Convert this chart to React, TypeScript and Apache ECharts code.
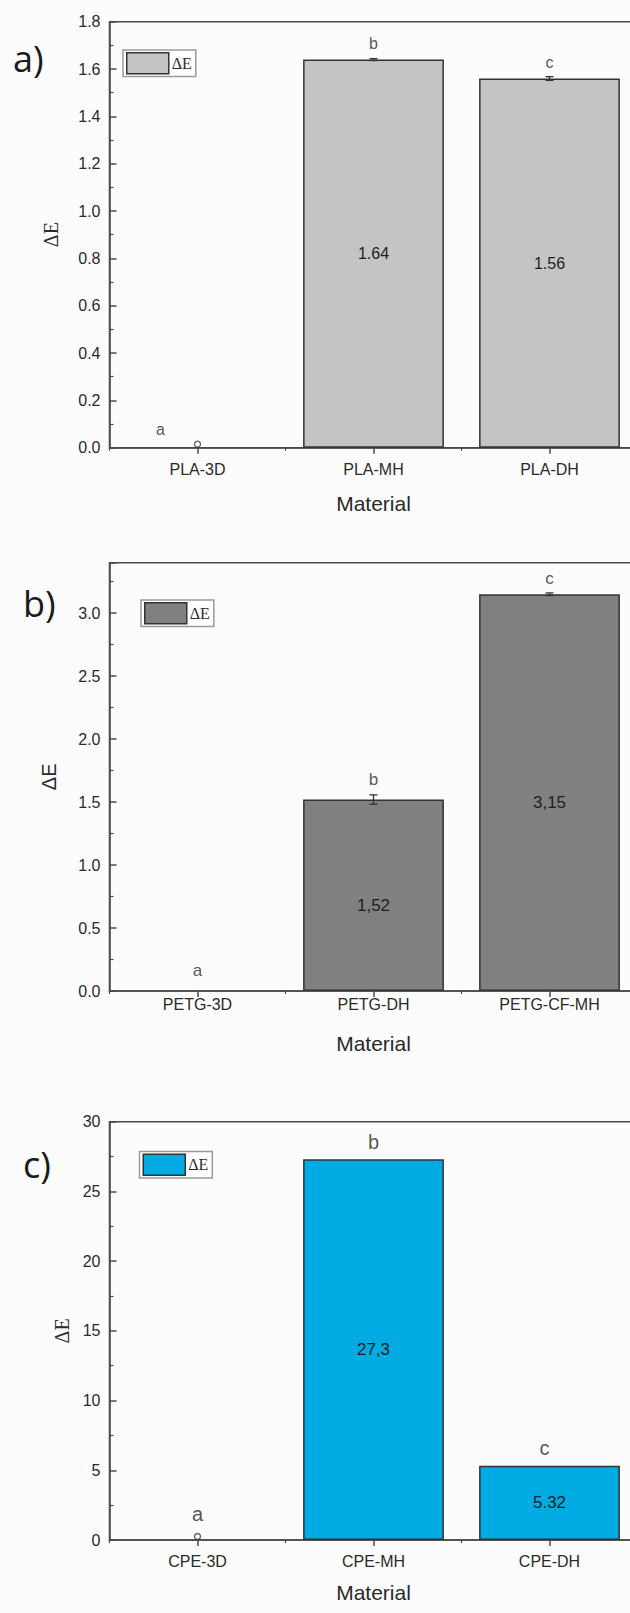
import React, { useEffect, useRef } from "react";
import * as echarts from "echarts";

// ---------- data ----------
const categoriesA = ["PLA-3D", "PLA-MH", "PLA-DH"];
const valuesA = [0, 1.64, 1.56];
const errorsA = [0, 0.004, 0.008];
const lettersA = ["a", "b", "c"];
const valueTextA = ["", "1.64", "1.56"];
const yMinA = 0, yMaxA = 1.8, yStepA = 0.2;

const categoriesB = ["PETG-3D", "PETG-DH", "PETG-CF-MH"];
const valuesB = [0, 1.52, 3.15];
const errorsB = [0, 0.037, 0.01];
const lettersB = ["a", "b", "c"];
const valueTextB = ["", "1,52", "3,15"];
const yMinB = 0, yMaxB = 3.4, yStepB = 0.5;

const categoriesC = ["CPE-3D", "CPE-MH", "CPE-DH"];
const valuesC = [0, 27.3, 5.32];
const errorsC = [0, 0, 0];
const lettersC = ["a", "b", "c"];
const valueTextC = ["", "27,3", "5.32"];
const yMinC = 0, yMaxC = 30, yStepC = 5;

const seriesName = "ΔE";
const xTitle = "Material";

// ---------- style / layout config ----------
const panels = [
  {
    tag: "a)", tagX: 13, tagY: 58,
    cats: categoriesA, vals: valuesA, errs: errorsA, letters: lettersA, vtext: valueTextA,
    min: yMinA, max: yMaxA, step: yStepA, decimals: 1, showMax: true,
    top: 21.7, height: 426,
    color: "#c4c4c4",
    legendLeft: 123, legendTop: 50,
    yNameFont: "Liberation Serif", yNameGap: 49,
    xLabelMargin: 14, xNameGap: 45,
    letterFont: 16, letterDist: [10, 7, 6], letterDx: [-37, 0, 0],
    valueFont: 16, valueOffset: 0,
    zeroMarker: true,
  },
  {
    tag: "b)", tagX: 23, tagY: 603,
    cats: categoriesB, vals: valuesB, errs: errorsB, letters: lettersB, vtext: valueTextB,
    min: yMinB, max: yMaxB, step: yStepB, decimals: 1, showMax: false,
    top: 562.7, height: 428.3,
    color: "#808080",
    legendLeft: 141, legendTop: 600,
    yNameFont: "Liberation Sans", yNameGap: 51,
    xLabelMargin: 5, xNameGap: 42,
    letterFont: 17, letterDist: [12, 7, 6], letterDx: [0, 0, 0],
    valueFont: 17, valueOffset: 10,
    zeroMarker: false,
  },
  {
    tag: "c)", tagX: 23, tagY: 1164,
    cats: categoriesC, vals: valuesC, errs: errorsC, letters: lettersC, vtext: valueTextC,
    min: yMinC, max: yMaxC, step: yStepC, decimals: 0, showMax: true,
    top: 1121.7, height: 418.3,
    color: "#00abe4",
    legendLeft: 139.5, legendTop: 1151.5,
    yNameFont: "Liberation Serif", yNameGap: 36,
    xLabelMargin: 13, xNameGap: 42,
    letterFont: 20, letterDist: [16, 7, 8], letterDx: [0, 0, -5],
    valueFont: 17, valueOffset: 0,
    zeroMarker: true,
  },
];

const GRID_LEFT = 109.5;
const GRID_WIDTH = 528;
const AXIS_COLOR = "#4a4a4a";
const TEXT_COLOR = "#2a2a2a";
const SANS = "Liberation Sans";
const BG = "#fcfcfc";

function buildOption() {
  const grid: any[] = [];
  const xAxis: any[] = [];
  const yAxis: any[] = [];
  const series: any[] = [];
  const legend: any[] = [];
  const graphic: any[] = [];

  panels.forEach((p, k) => {
    const name = seriesName + " " + p.tag;
    grid.push({
      left: GRID_LEFT, top: p.top, width: GRID_WIDTH, height: p.height,
      show: true, borderColor: AXIS_COLOR, borderWidth: 1.5, backgroundColor: "transparent",
    });
    xAxis.push({
      type: "category", gridIndex: k, data: p.cats, position: "bottom",
      axisLine: { show: true, lineStyle: { color: AXIS_COLOR, width: 1.5 } },
      axisTick: { show: true, alignWithLabel: true, inside: false, length: 6, lineStyle: { color: AXIS_COLOR, width: 1.5 } },
      axisLabel: { margin: p.xLabelMargin, fontFamily: SANS, fontSize: 16, color: TEXT_COLOR },
      name: xTitle, nameLocation: "middle", nameGap: p.xNameGap,
      nameTextStyle: { fontFamily: SANS, fontSize: 21, color: TEXT_COLOR },
      splitLine: { show: false },
    });
    xAxis.push({
      type: "category", gridIndex: k, data: p.cats, position: "bottom",
      axisLine: { show: false },
      axisTick: { show: true, alignWithLabel: false, inside: false, length: 3, lineStyle: { color: AXIS_COLOR, width: 1.2 } },
      axisLabel: { show: false },
      splitLine: { show: false },
    });
    yAxis.push({
      type: "value", gridIndex: k, min: p.min, max: p.max, interval: p.step,
      axisLine: { show: true, lineStyle: { color: AXIS_COLOR, width: 1.5 } },
      axisTick: { show: true, inside: true, length: 7, lineStyle: { color: AXIS_COLOR, width: 1.5 } },
      minorTick: { show: true, splitNumber: 2, length: 4, lineStyle: { color: AXIS_COLOR, width: 1.2 } },
      axisLabel: {
        margin: 9, fontFamily: SANS, fontSize: 16, color: TEXT_COLOR,
        showMaxLabel: p.showMax, showMinLabel: true,
        formatter: (v: number) => v.toFixed(p.decimals),
      },
      splitLine: { show: false },
      name: seriesName, nameLocation: "middle", nameGap: p.yNameGap, nameRotate: 90,
      nameTextStyle: { fontFamily: p.yNameFont, fontSize: 20, color: TEXT_COLOR },
    });

    series.push({
      type: "bar", name, xAxisIndex: 2 * k, yAxisIndex: k,
      data: p.vals.map((v) =>
        v === 0 ? { value: v, itemStyle: { borderWidth: 0, color: "transparent" } } : v
      ),
      barWidth: "80%",
      itemStyle: { color: p.color, borderColor: "#333", borderWidth: 1.5 },
      label: {
        show: true, position: "inside", offset: [0, p.valueOffset],
        fontFamily: SANS, fontSize: p.valueFont, color: "#1e1e1e",
        formatter: (prm: any) => p.vtext[prm.dataIndex],
      },
      z: 2,
    });
    series.push({
      type: "custom", name: name + " err", xAxisIndex: 2 * k, yAxisIndex: k,
      data: p.vals.map((v, i) => [i, v, p.errs[i]]),
      encode: { x: 0, y: 1 },
      renderItem: (params: any, api: any) => {
        const i = api.value(0), v = api.value(1), e = api.value(2);
        if (!e) return { type: "group", children: [] };
        const t = api.coord([i, v + e]);
        const b = api.coord([i, v - e]);
        const hw = 4;
        const st = { stroke: "#333", lineWidth: 1.3 };
        return {
          type: "group",
          children: [
            { type: "line", shape: { x1: t[0], y1: t[1], x2: b[0], y2: b[1] }, style: st },
            { type: "line", shape: { x1: t[0] - hw, y1: t[1], x2: t[0] + hw, y2: t[1] }, style: st },
            { type: "line", shape: { x1: b[0] - hw, y1: b[1], x2: b[0] + hw, y2: b[1] }, style: st },
          ],
        };
      },
      z: 5,
    });
    series.push({
      type: "scatter", name: name + " letters", xAxisIndex: 2 * k, yAxisIndex: k,
      symbolSize: 0,
      data: p.vals.map((v, i) => ({
        value: [i, v + p.errs[i]],
        label: {
          show: true, position: "top", distance: p.letterDist[i], offset: [p.letterDx[i], 0],
          formatter: p.letters[i], fontFamily: SANS, fontSize: p.letterFont, color: TEXT_COLOR,
        },
      })),
      z: 6,
    });
    if (p.zeroMarker) {
      const zeroData: any[] = [];
      p.vals.forEach((v, i) => { if (v === 0) zeroData.push([i, v]); });
      series.push({
        type: "scatter", name: name + " zero", xAxisIndex: 2 * k, yAxisIndex: k,
        symbol: "circle", symbolSize: 6, symbolOffset: [0, -3.5],
        itemStyle: { color: BG, borderColor: "#333", borderWidth: 1.3 },
        data: zeroData,
        clip: false,
        z: 7,
      });
    }
    legend.push({
      data: [name], left: p.legendLeft, top: p.legendTop, orient: "horizontal",
      itemWidth: 42, itemHeight: 21, itemGap: 0, padding: [2, 4, 2, 3],
      backgroundColor: "#ffffff", borderColor: "#9a9a9a", borderWidth: 1.5,
      icon: "rect",
      itemStyle: { borderColor: "#333", borderWidth: 1.5 },
      formatter: () => seriesName,
      textStyle: { fontFamily: "Liberation Serif", fontSize: 16, color: TEXT_COLOR, padding: [0, 0, 0, -2] },
      selectedMode: false,
    });
    graphic.push({
      type: "text", x: p.tagX, y: p.tagY,
      style: { text: p.tag, fontFamily: "Open Sans", fontSize: 36, fill: "#1a1a1a", verticalAlign: "middle", align: "left" },
    });
  });

  return {
    animation: false,
    backgroundColor: BG,
    grid, xAxis, yAxis, series, legend, graphic,
  };
}

export default function App() {
  const ref = useRef<HTMLDivElement>(null);
  useEffect(() => {
    if (!ref.current) return;
    const chart = echarts.init(ref.current, null, { renderer: "svg" });
    chart.setOption(buildOption() as any);
    return () => chart.dispose();
  }, []);
  return (
    <div style={{ position: "absolute", left: 0, top: 0, width: 630, height: 1613, overflow: "hidden", background: BG }}>
      <div ref={ref} style={{ width: 660, height: 1613 }} />
    </div>
  );
}
